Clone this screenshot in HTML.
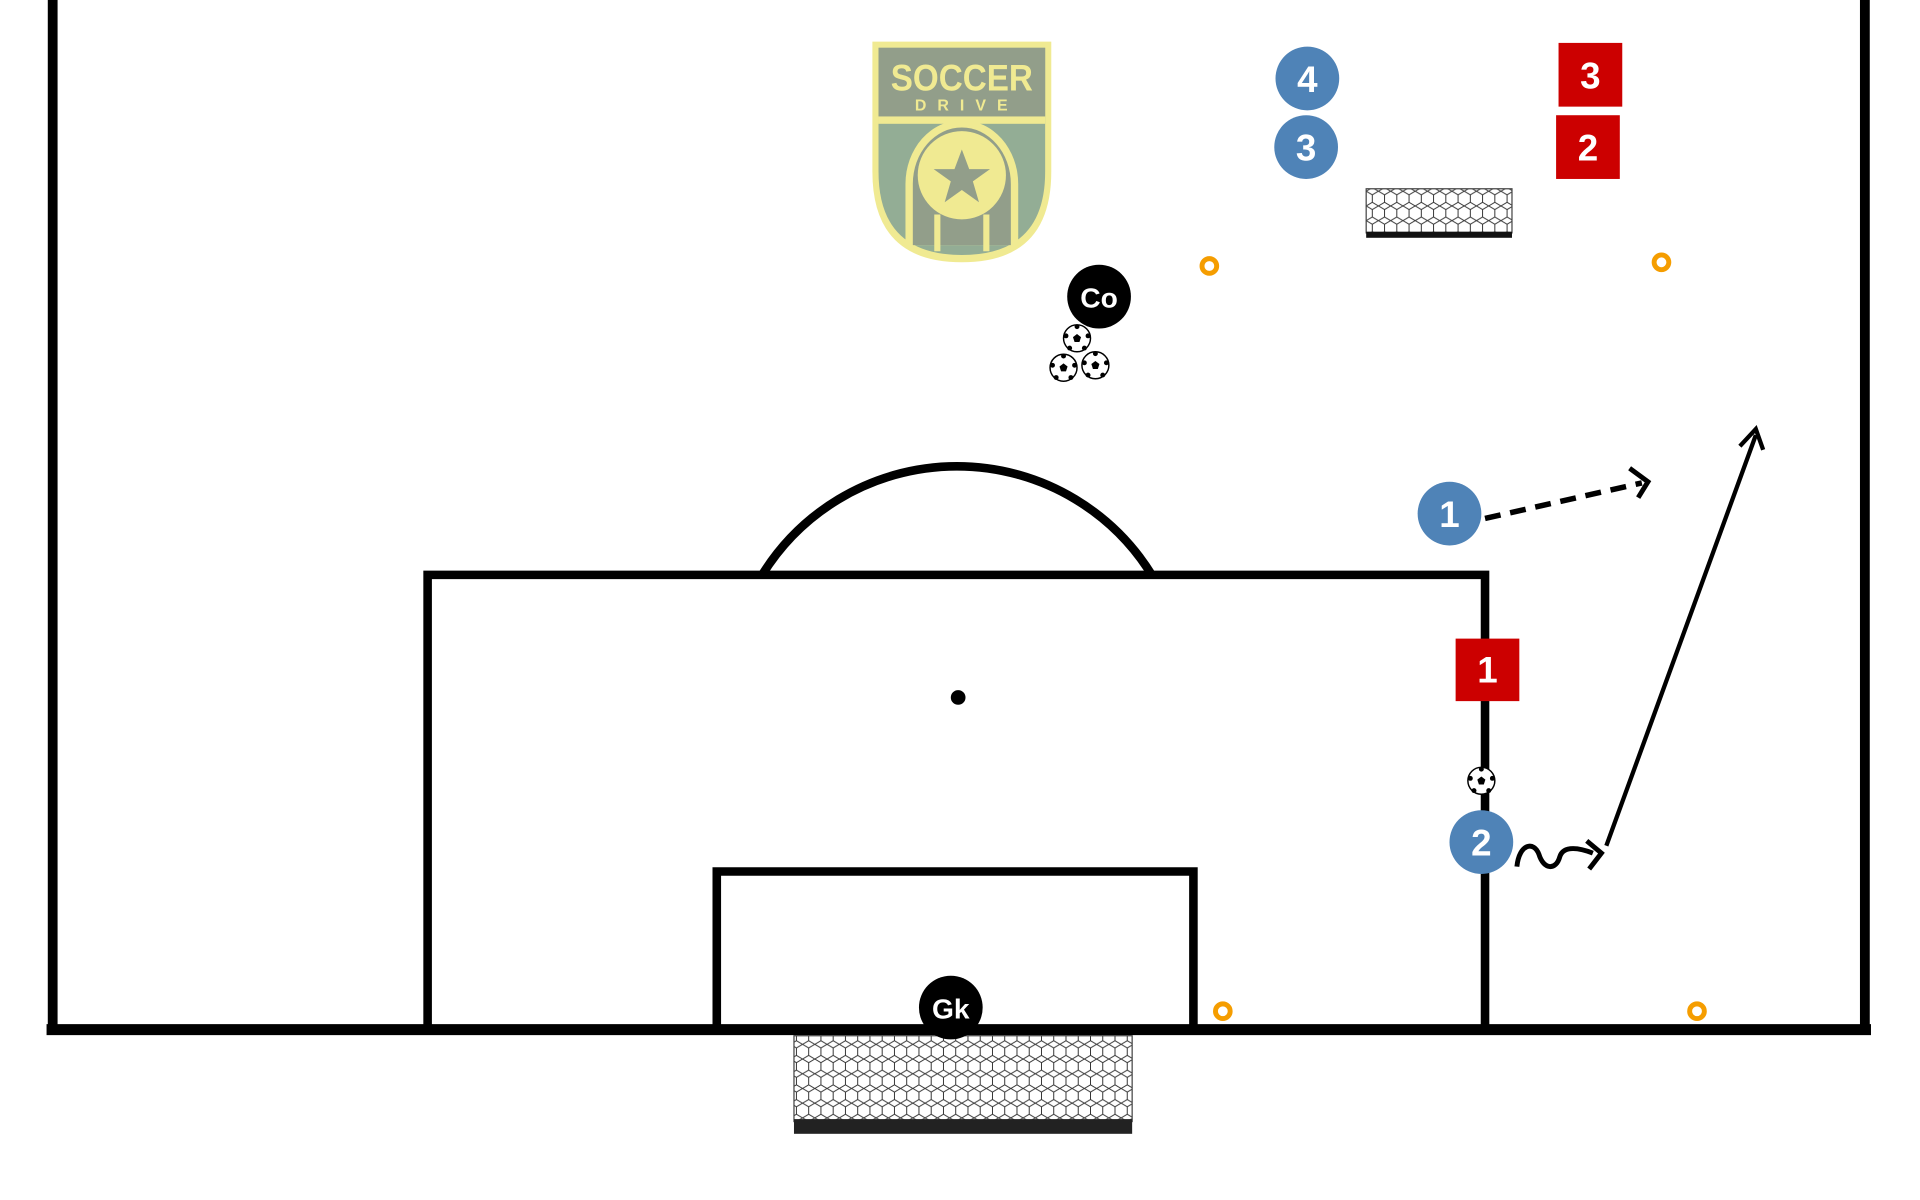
<!DOCTYPE html>
<html><head><meta charset="utf-8"><style>
html,body{margin:0;padding:0;background:#fff;width:1920px;height:1200px;overflow:hidden}
svg{display:block}
text{font-family:"Liberation Sans",sans-serif;font-weight:bold}
</style></head><body>
<svg width="1920" height="1200" viewBox="0 0 1567 979" preserveAspectRatio="none" xmlns="http://www.w3.org/2000/svg">
<defs>
<pattern id="net" width="10" height="12" patternUnits="userSpaceOnUse">
<rect width="10" height="12" fill="#fff"/>
<path d="M0 3 L5 0 L10 3 L10 9 L5 12 L0 9 Z" fill="none" stroke="#333" stroke-width="0.8"/>
</pattern>
<g id="ball">
<circle r="11" fill="#fff" stroke="#000" stroke-width="1.2"/>
<polygon points="0,-3.5 3.3,-1 2,3 -2,3 -3.3,-1" fill="#000"/>
<circle cx="0" cy="-9.5" r="2" fill="#000"/><circle cx="9" cy="-2" r="2" fill="#000"/><circle cx="6" cy="8" r="2" fill="#000"/><circle cx="-6" cy="8" r="2" fill="#000"/><circle cx="-9" cy="-2" r="2" fill="#000"/>
</g>
</defs>
<line x1="43" y1="0" x2="43" y2="842" stroke="#000" stroke-width="8"/>
<line x1="1522" y1="0" x2="1522" y2="842" stroke="#000" stroke-width="8"/>
<line x1="38" y1="840" x2="1527" y2="840" stroke="#000" stroke-width="9"/>
<path d="M622 469 A187 187 0 0 1 940 469" fill="none" stroke="#000" stroke-width="7"/>
<polyline points="349,840 349,469 1212,469 1212,840" fill="none" stroke="#000" stroke-width="7"/>
<polyline points="585,840 585,711 974,711 974,840" fill="none" stroke="#000" stroke-width="7"/>
<circle cx="782" cy="569" r="6" fill="#000"/>
<rect x="648" y="845" width="276" height="70" fill="url(#net)" stroke="#444" stroke-width="1"/>
<rect x="648" y="913" width="276" height="12" fill="#222"/>
<rect x="1115" y="154" width="119" height="36" fill="url(#net)" stroke="#444" stroke-width="1"/>
<rect x="1115" y="189" width="119" height="5" fill="#111"/>
<path d="M712 34 H858 V140 Q858 214 785 214 Q712 214 712 140 Z" fill="#f0ea92"/>
<path d="M717 39 H853 V140 Q853 208 785 208 Q717 208 717 140 Z" fill="#93ad95"/>
<rect x="717" y="39" width="136" height="56" fill="#929e8a"/>
<rect x="717" y="95" width="136" height="6" fill="#f0ea92"/>
<path d="M739 200 V150 A46 52 0 0 1 831 150 V200 Z" fill="#f0ea92"/>
<path d="M745 200 V150 A40 46 0 0 1 825 150 V200 Z" fill="#929e8a"/>
<circle cx="785" cy="143" r="36" fill="#f0ea92"/>
<polygon points="785,122 791,138 808,138 794,148 799,165 785,155 771,165 776,148 762,138 779,138" fill="#929e8a"/>
<g stroke="#f0ea92" stroke-width="5"><line x1="765" y1="175" x2="765" y2="205"/><line x1="805" y1="175" x2="805" y2="205"/></g>
<text x="785" y="74" font-size="30" fill="#f0ea92" text-anchor="middle" textLength="116" lengthAdjust="spacingAndGlyphs" font-family="Liberation Sans Narrow,Liberation Sans,sans-serif">SOCCER</text>
<text x="789" y="90" font-size="13" fill="#f0ea92" text-anchor="middle" letter-spacing="9">DRIVE</text>
<g fill="none" stroke="#f59d00" stroke-width="4">
<circle cx="987" cy="217" r="6"/><circle cx="1356" cy="214" r="6"/><circle cx="998" cy="825" r="6"/><circle cx="1385" cy="825" r="6"/>
</g>
<line x1="1212" y1="423" x2="1340" y2="394" stroke="#000" stroke-width="4.5" stroke-dasharray="13,8"/>
<polyline points="1330,382 1345,393 1337,406" fill="none" stroke="#000" stroke-width="4"/>
<line x1="1311" y1="690" x2="1433" y2="355" stroke="#000" stroke-width="3.5"/>
<polyline points="1420,364 1433,350 1439,367" fill="none" stroke="#000" stroke-width="3.5"/>
<path d="M1238 707 C1240 688 1252 686 1256 697 C1260 710 1270 710 1273 699 C1276 689 1290 692 1300 696" fill="none" stroke="#000" stroke-width="4"/>
<polyline points="1295,686 1307,696 1297,709" fill="none" stroke="#000" stroke-width="4"/>
<use href="#ball" x="879" y="276"/><use href="#ball" x="868" y="300"/><use href="#ball" x="894" y="298"/><use href="#ball" x="1209" y="637"/>
<g fill="#4f83b7"><circle cx="1067" cy="64" r="26"/><circle cx="1066" cy="120" r="26"/><circle cx="1183" cy="419" r="26"/><circle cx="1209" cy="687" r="26"/></g>
<g fill="#fff" font-size="30" text-anchor="middle">
<text x="1067" y="75">4</text><text x="1066" y="131">3</text><text x="1183" y="430">1</text><text x="1209" y="698">2</text>
</g>
<g fill="#cc0000"><rect x="1272" y="35" width="52" height="52"/><rect x="1270" y="94" width="52" height="52"/><rect x="1188" y="521" width="52" height="51"/></g>
<g fill="#fff" font-size="30" text-anchor="middle">
<text x="1298" y="72">3</text><text x="1296" y="131">2</text><text x="1214" y="557">1</text>
</g>
<circle cx="897" cy="242" r="26" fill="#000"/>
<text x="897" y="251" fill="#fff" font-size="23" text-anchor="middle">Co</text>
<circle cx="776" cy="822" r="26" fill="#000"/>
<text x="776" y="831" fill="#fff" font-size="23" text-anchor="middle">Gk</text>
</svg>
</body></html>
